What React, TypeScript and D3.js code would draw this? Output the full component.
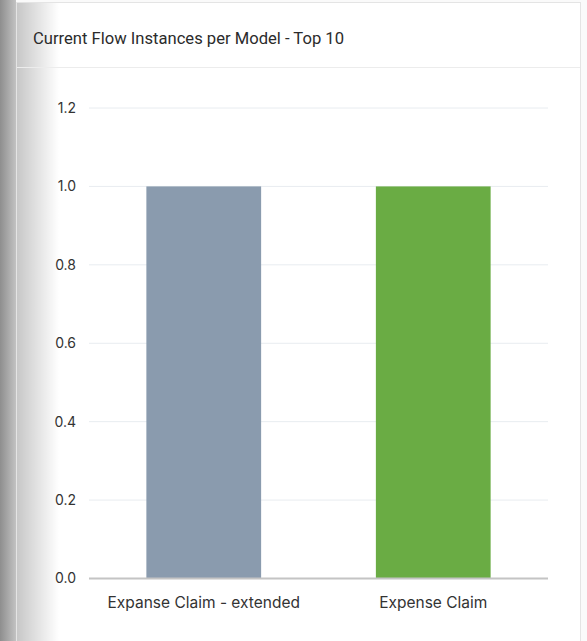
import React from 'react';
import * as d3 from 'd3';

const categories = ['Expanse Claim - extended', 'Expense Claim'];
const values = [1, 1];
const barColors = ['#8a9bae', '#6aac44'];
const yTicks = [0, 0.2, 0.4, 0.6, 0.8, 1.0, 1.2];

const W = 587;
const H = 641;
const FONT = 'Inter, "Liberation Sans", Arial, sans-serif';
const TITLE_FONT = 'Roboto, "Liberation Sans", Arial, sans-serif';

const App: React.FC = () => {
  const x = d3
    .scaleBand<string>()
    .domain(categories)
    .range([89, 548])
    .paddingInner(0.5)
    .paddingOuter(0.25);

  const y = d3.scaleLinear().domain([0, 1.2]).range([578.5, 108]);
  const fmt = d3.format('.1f');

  return (
    <div style={{ position: 'absolute', left: 0, top: 0 }}>
      <svg width={W} height={H} style={{ display: 'block' }}>
        <defs>
          <linearGradient id="outerShade" x1="0" x2="1" y1="0" y2="0">
            <stop offset="0" stopColor="#8e8e8e" />
            <stop offset="1" stopColor="#c2c2c2" />
          </linearGradient>
          <linearGradient id="innerShade" x1="0" x2="1" y1="0" y2="0">
            <stop offset="0" stopColor="#000" stopOpacity={0.22} />
            <stop offset="1" stopColor="#000" stopOpacity={0} />
          </linearGradient>
        </defs>

        {/* page background + card */}
        <rect x={0} y={0} width={W} height={H} fill="#fafafa" />
        <rect x={0} y={0} width={16} height={H} fill="url(#outerShade)" />
        <rect x={16.5} y={2.5} width={564} height={H + 20} fill="#fff" stroke="#e4e4e4" />
        <rect x={17} y={3} width={42} height={H} fill="url(#innerShade)" />

        {/* header */}
        <text x={33} y={44} fontFamily={TITLE_FONT} fontSize={16.6} fill="#2b2b2b">
          Current Flow Instances per Model - Top 10
        </text>
        <line x1={17} x2={580} y1={67.5} y2={67.5} stroke="#ececec" />

        {/* grid + y ticks */}
        <g fontFamily={FONT} fontSize={14} fill="#333">
          {yTicks.map((t) => (
            <g key={t}>
              {t > 0 && (
                <line x1={89} x2={548} y1={y(t)} y2={y(t)} stroke="#e8ecf0" strokeWidth={1} />
              )}
              <text x={76} y={y(t)} dy="0.35em" textAnchor="end">
                {fmt(t)}
              </text>
            </g>
          ))}
        </g>

        {/* bars */}
        {categories.map((c, i) => (
          <rect
            key={c}
            x={x(c)}
            y={y(values[i])}
            width={x.bandwidth()}
            height={y(0) - y(values[i])}
            fill={barColors[i]}
          />
        ))}

        {/* x axis */}
        <line x1={89} x2={548} y1={y(0)} y2={y(0)} stroke="#c4c4c4" strokeWidth={2} />
        <g fontFamily={FONT} fontSize={15.5} fill="#333" textAnchor="middle">
          {categories.map((c) => (
            <text key={c} x={(x(c) || 0) + x.bandwidth() / 2} y={608}>
              {c}
            </text>
          ))}
        </g>
      </svg>
    </div>
  );
};

export default App;
